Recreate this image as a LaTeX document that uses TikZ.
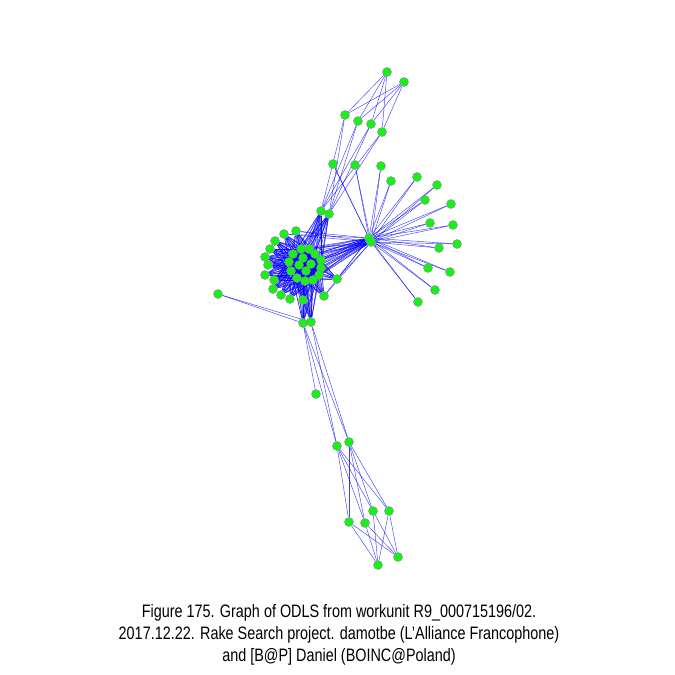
\documentclass[tikz,border=0pt]{standalone}
\usepackage{fontspec}
\setmainfont{Liberation Sans}[Ligatures=ResetAll]
\usetikzlibrary{backgrounds}
\definecolor{vgreen}{RGB}{25,240,25}

\tikzset{
  vtx/.style={circle,draw=black!45,line width=0.4pt,fill=vgreen,inner sep=0pt,minimum size=9pt},
  lnk/.style={draw=blue,line width=0.45pt,opacity=0.75},
  capt/.style={anchor=base,font=\fontsize{18}{22}\selectfont}
}
\newcommand{\narrowtext}[1]{\scalebox{0.8}[1]{#1}}

\begin{document}
\begin{tikzpicture}[x=1pt,y=-1pt]
  \useasboundingbox (0,0) rectangle (675,675);
  % core and its ring
  \foreach \n/\x/\y in {c1/293/254,c2/301/249,c3/309/249,c4/315/254,c5/321/260,c6/321/268,
      c7/319/275,c8/313/280,c9/305/281,c10/297/278,c11/291/271,c12/289/262,
      c13/303/258,c14/311/264,c15/306/271,c16/299/265}
    \node[vtx] (\n) at (\x,\y) {};
  \foreach \n/\x/\y in {r1/284/234,r2/296/231,r3/275/241,r4/270/249,r5/265/257,r6/268/265,
      r7/265/275,r8/274/280,r9/273/289,r10/281/295,r11/290/299,r12/303/300,
      r13/324/296,r14/337/279}
    \node[vtx] (\n) at (\x,\y) {};
  \foreach \n/\x/\y in {a1/321/211,a2/329/214,d1/303/323,d2/311/322,h1/369/238,h2/371/242,l1/218/294}
    \node[vtx] (\n) at (\x,\y) {};
  % fan round the hub
  \foreach \n/\x/\y in {f1/333/164,f2/355/165,f3/381/166,f4/391/181,f5/417/177,f6/437/185,
      f7/425/200,f8/451/204,f9/430/223,f10/453/225,f11/457/244,f12/439/248,
      f13/428/268,f14/450/272,f15/435/290,f16/418/302}
    \node[vtx] (\n) at (\x,\y) {};
  % upper group
  \foreach \n/\x/\y in {t1/387/72,t2/404/82,m1/345/115,m2/358/121,m3/371/124,m4/382/132}
    \node[vtx] (\n) at (\x,\y) {};
  % lower group
  \foreach \n/\x/\y in {e1/316/394,p1/337/446,p2/349/442,q1/373/511,q2/389/511,
      q3/349/522,q4/365/523,s1/398/557,s2/378/565}
    \node[vtx] (\n) at (\x,\y) {};

  \begin{scope}[on background layer]
    \fill[white] (0,0) rectangle (675,675);
    \foreach \i in {1,...,16}{
      \foreach \j in {\i,...,16}{\ifnum\i<\j \draw[lnk] (c\i) -- (c\j);\fi}
      \foreach \k in {1,...,14} \draw[lnk] (r\k) -- (c\i);
      \foreach \k in {a1,a2,d1,d2,h1,h2} \draw[lnk] (\k) -- (c\i);
    }
    \foreach \k in {1,...,16}{\draw[lnk] (f\k) -- (h1); \draw[lnk] (f\k) -- (h2);}
    \foreach \k in {r1,r2,r13,r14}{\draw[lnk] (\k) -- (h1); \draw[lnk] (\k) -- (h2);}
    \foreach \k in {1,...,4}{
      \draw[lnk] (t1) -- (m\k); \draw[lnk] (t2) -- (m\k);
      \draw[lnk] (m\k) -- (a1); \draw[lnk] (m\k) -- (a2);
      \draw[lnk] (q\k) -- (p1); \draw[lnk] (q\k) -- (p2);
      \draw[lnk] (q\k) -- (s1); \draw[lnk] (q\k) -- (s2);
    }
    \foreach \k in {p1,p2,l1}{\draw[lnk] (\k) -- (d1); \draw[lnk] (\k) -- (d2);}
    \draw[lnk] (e1) -- (d1);
  \end{scope}

  \node[capt] (cap1) at (339,617) {\narrowtext{Figure 175. Graph of ODLS from workunit R9\_000715196/02.}};
  \node[capt] (cap2) at (339,639) {\narrowtext{2017.12.22. Rake Search project. damotbe (L'Alliance Francophone)}};
  \node[capt] (cap3) at (339,661) {\narrowtext{and [B@P] Daniel (BOINC@Poland)}};
\end{tikzpicture}
\end{document}
